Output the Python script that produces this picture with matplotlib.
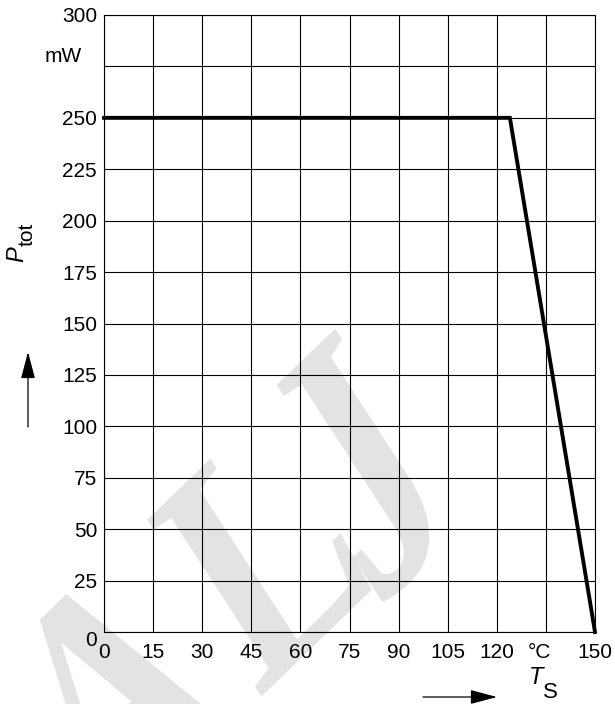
import numpy as np
import matplotlib
matplotlib.use('Agg')
import matplotlib.pyplot as plt
from matplotlib.textpath import TextPath
from matplotlib.patches import PathPatch, FancyArrowPatch
from matplotlib.font_manager import FontProperties
from matplotlib.transforms import Affine2D, ScaledTranslation

plt.rcParams['font.family'] = ['Liberation Sans', 'DejaVu Sans']

# derating curve: total power vs soldering point temperature
ts = [0, 124, 150]
ptot = [250, 250, 0]

x_ticks = [0, 15, 30, 45, 60, 75, 90, 105, 120, 135, 150]
x_labels = ['0', '15', '30', '45', '60', '75', '90', '105', '120', '', '150']
y_ticks = [0, 25, 50, 75, 100, 125, 150, 175, 200, 225, 250, 275, 300]
y_labels = ['0', '25', '50', '75', '100', '125', '150', '175', '200', '225', '250', '', '300']

W, H, DPI = 615, 704, 100
fig = plt.figure(figsize=(W / DPI, H / DPI), dpi=DPI)
ax = fig.add_axes([104 / W, (H - 632) / H, (595 - 104) / W, (632 - 15) / H])
ax.set_facecolor('none')

ax.plot(ts, ptot, color='black', lw=2.8, solid_joinstyle='miter', zorder=3, clip_on=False)

ax.set_xlim(0, 150)
ax.set_ylim(0, 300)
ax.set_xticks(x_ticks)
ax.set_xticklabels(x_labels)
ax.set_yticks(y_ticks)
ax.set_yticklabels(y_labels)
ax.tick_params(length=0, labelsize=15)
ax.tick_params(axis='x', pad=8)
ax.tick_params(axis='y', pad=5)
ax.grid(True, color='black', lw=0.8)
for s in ax.spines.values():
    s.set_linewidth(0.8)

# nudge the y "0" down a little so it clears the x "0"
zero = ax.yaxis.get_major_ticks()[0].label1
zero.set_transform(zero.get_transform() + ScaledTranslation(0, -5 / 72, fig.dpi_scale_trans))

# unit labels
ax.text(133, -20 / 617, '°C', transform=ax.get_xaxis_transform(), ha='center', va='center', fontsize=15)
ax.text(-0.045, 280, 'mW', transform=ax.get_yaxis_transform(), ha='right', va='center', fontsize=15)

def px(x, y):
    return (x / W, (H - y) / H)

# axis titles
fig.text(*px(17, 254), 'P', rotation=90, style='italic', fontsize=17, ha='center', va='center')
fig.text(*px(27, 234), 'tot', rotation=90, fontsize=15, ha='center', va='center')
fig.text(*px(536, 677), 'T', style='italic', fontsize=17, ha='center', va='center')
fig.text(*px(550, 693), 'S', fontsize=16, ha='center', va='center')

# direction arrows
for start, end in [((28, 427), (28, 352)), ((423, 697), (497, 697))]:
    arr = FancyArrowPatch(px(*start), px(*end), transform=fig.transFigure,
                          arrowstyle='-|>,head_length=0.83,head_width=0.22',
                          mutation_scale=20, color='black', lw=0.9,
                          shrinkA=0, shrinkB=0)
    fig.add_artist(arr)

# faint background lettering, one slanted glyph at a time
wm_font = FontProperties(family='Liberation Serif', weight='bold')
b = np.radians(44)
u = np.radians(123)
sx, sy = 260, 321
# glyph, anchor kind, anchor in pixels (top-left origin), vertical stretch
glyphs = [('A', 'apex', (53, 607), 1.0),
          ('L', 'topleft', (147, 520), 1.0),
          ('J', 'topleft', (255, 406), 1.12)]
to_disp = Affine2D().scale(1 / DPI) + fig.dpi_scale_trans
for ch, kind, (gx, gy), stretch in glyphs:
    M = np.array([[sx * np.cos(b), sy * stretch * np.cos(u)],
                  [sx * np.sin(b), sy * stretch * np.sin(u)]])
    tp = TextPath((0, 0), ch, size=1, prop=wm_font)
    ext = tp.get_extents()
    if kind == 'apex':
        local = np.array([(ext.x0 + ext.x1) / 2, ext.y1])
    else:
        local = np.array([ext.x0, ext.y1])
    target = np.array([gx, H - gy])
    t = target - M @ local
    m = Affine2D(np.array([[M[0, 0], M[0, 1], t[0]],
                           [M[1, 0], M[1, 1], t[1]],
                           [0, 0, 1]]))
    fig.add_artist(PathPatch(tp, transform=m + to_disp,
                             facecolor='#e3e3e3', edgecolor='none', zorder=-1))

fig.savefig('out.png', dpi=DPI)
